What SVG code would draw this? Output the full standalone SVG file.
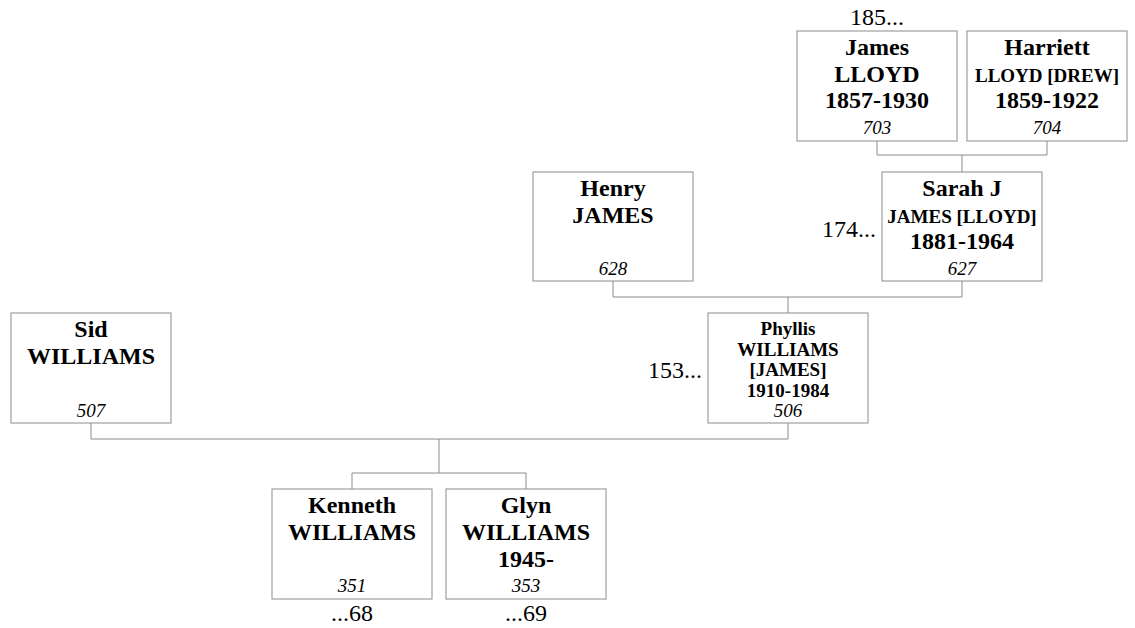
<svg xmlns="http://www.w3.org/2000/svg" width="1135" height="628" viewBox="0 0 1135 628">
<style>
.box{fill:#fff;stroke:#8c8c8c;stroke-width:1}
.ln{fill:none;stroke:#8c8c8c;stroke-width:1}
text{font-family:"Liberation Serif","Times New Roman",serif;fill:#000;text-anchor:middle}
.n{font-size:24px;font-weight:bold}
.s{font-size:19px;font-weight:bold}
.id{font-size:19px;font-style:italic}
.o{font-size:24px}
.r{text-anchor:end}
</style>
<rect width="1135" height="628" fill="#fff"/>
<g id="connectors">
<path class="ln" d="M877 141V155H1047V141M962 155V172"/>
<path class="ln" d="M613 281V297H962V281M788 297V313"/>
<path class="ln" d="M91 423V439H788V423M439 439V473"/>
<path class="ln" d="M352 489V473H526V489"/>
</g>
<g id="james">
<rect class="box" x="797" y="31" width="160" height="110"/>
<text class="o" x="877" y="25">185...</text>
<text class="n" x="877" y="55">James</text>
<text class="n" x="877" y="81.5">LLOYD</text>
<text class="n" x="877" y="108">1857-1930</text>
<text class="id" x="877" y="134">703</text>
</g>
<g id="harriett">
<rect class="box" x="967" y="31" width="160" height="110"/>
<text class="n" x="1047" y="55">Harriett</text>
<text class="s" x="1047" y="81.5">LLOYD [DREW]</text>
<text class="n" x="1047" y="108">1859-1922</text>
<text class="id" x="1047" y="134">704</text>
</g>
<g id="henry">
<rect class="box" x="533" y="172" width="160" height="109"/>
<text class="n" x="613" y="196">Henry</text>
<text class="n" x="613" y="222.5">JAMES</text>
<text class="id" x="613" y="275">628</text>
</g>
<g id="sarah">
<rect class="box" x="882" y="172" width="160" height="109"/>
<text class="o r" x="876" y="237">174...</text>
<text class="n" x="962" y="196">Sarah J</text>
<text class="s" x="962" y="223">JAMES [LLOYD]</text>
<text class="n" x="962" y="249">1881-1964</text>
<text class="id" x="962" y="275">627</text>
</g>
<g id="sid">
<rect class="box" x="11" y="313" width="160" height="110"/>
<text class="n" x="91" y="337">Sid</text>
<text class="n" x="91" y="364">WILLIAMS</text>
<text class="id" x="91" y="417">507</text>
</g>
<g id="phyllis">
<rect class="box" x="708" y="313" width="160" height="110"/>
<text class="o r" x="702" y="378">153...</text>
<text class="s" x="788" y="335">Phyllis</text>
<text class="s" x="788" y="355.5">WILLIAMS</text>
<text class="s" x="788" y="376">[JAMES]</text>
<text class="s" x="788" y="396.5">1910-1984</text>
<text class="id" x="788" y="417">506</text>
</g>
<g id="kenneth">
<rect class="box" x="272" y="489" width="160" height="110"/>
<text class="n" x="352" y="513">Kenneth</text>
<text class="n" x="352" y="540">WILLIAMS</text>
<text class="id" x="352" y="592">351</text>
<text class="o" x="352" y="620.5">...68</text>
</g>
<g id="glyn">
<rect class="box" x="446" y="489" width="160" height="110"/>
<text class="n" x="526" y="513">Glyn</text>
<text class="n" x="526" y="540">WILLIAMS</text>
<text class="n" x="526" y="566.5">1945-</text>
<text class="id" x="526" y="592">353</text>
<text class="o" x="526" y="620.5">...69</text>
</g>
</svg>
